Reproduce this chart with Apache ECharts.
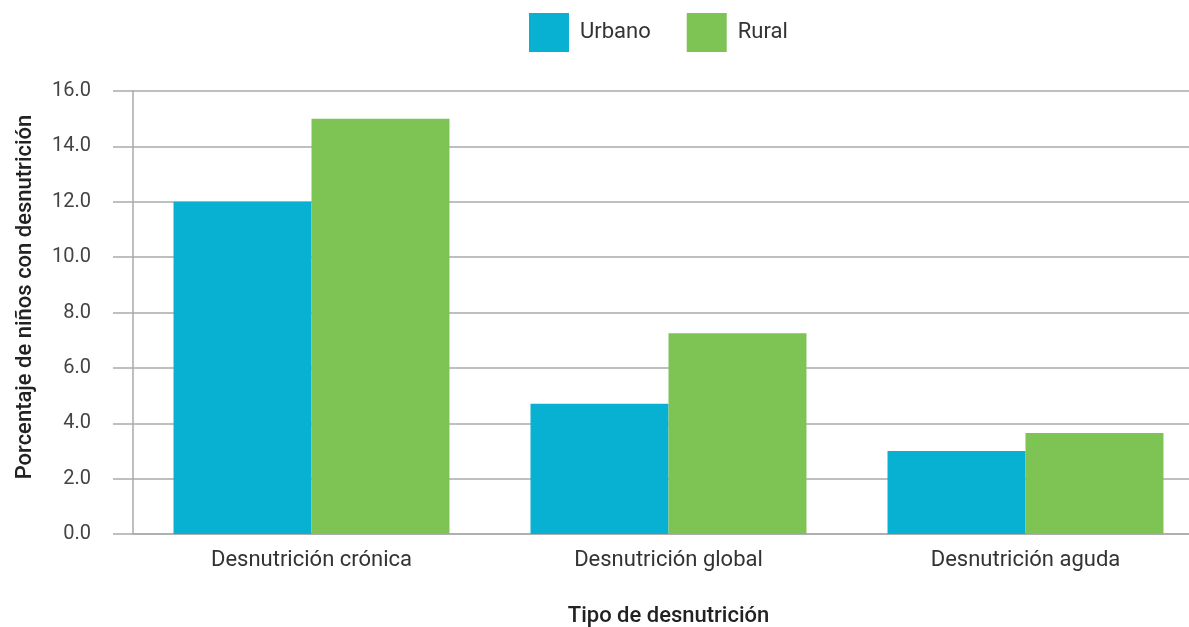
<!DOCTYPE html>
<html>
<head>
<meta charset="utf-8">
<script src="https://cdn.jsdelivr.net/npm/echarts@6/dist/echarts.min.js"></script>
<style>
  html, body { margin: 0; padding: 0; background: #fff; }
  #chart { width: 1189px; height: 627px; }
</style>
</head>
<body>
<div id="chart"></div>
<script>
// datos
const categories = ['Desnutrición crónica', 'Desnutrición global', 'Desnutrición aguda']
const urbano = [12.0, 4.7, 3.0]
const rural = [15.0, 7.25, 3.65]
const yTicks = { min: 0, max: 16, interval: 2 }

const FONT = 'Roboto'
const chart = echarts.init(document.getElementById('chart'))

chart.setOption({
  backgroundColor: '#fff',
  textStyle: { fontFamily: FONT },
  legend: {
    top: 13,
    left: 529,
    padding: 0,
    itemWidth: 40,
    itemHeight: 39,
    itemGap: 36,
    icon: 'rect',
    textStyle: { fontSize: 22, color: '#333', fontFamily: FONT, padding: [5, 0, 0, 6] },
    data: ['Urbano', 'Rural']
  },
  // la rejilla sigue más allá del borde derecho como en el original
  grid: { left: 133, width: 1071, top: 91, bottom: 93, outerBoundsMode: 'none', containLabel: false },
  xAxis: {
    type: 'category',
    data: categories,
    name: 'Tipo de desnutrición',
    nameLocation: 'middle',
    nameGap: 71,
    nameTextStyle: { fontSize: 22, fontWeight: 500, color: '#222', fontFamily: FONT },
    axisLine: { lineStyle: { color: '#aaa', width: 1.5 } },
    axisTick: { length: 14, lineStyle: { color: '#aaa', width: 1.5 } },
    axisLabel: { fontSize: 22, color: '#333', margin: 15, fontFamily: FONT }
  },
  yAxis: {
    type: 'value',
    min: yTicks.min,
    max: yTicks.max,
    interval: yTicks.interval,
    axisLine: { show: true, lineStyle: { color: '#aaa', width: 1.5 } },
    axisTick: { show: true, length: 20, lineStyle: { color: '#aaa', width: 1.5 } },
    axisLabel: {
      fontSize: 20, color: '#444', margin: 42, fontFamily: FONT,
      padding: [6, 0, 0, 0],
      formatter: v => v.toFixed(1)
    },
    splitLine: { lineStyle: { color: '#aaa', width: 1.5 } }
  },
  graphic: [{
    type: 'text',
    x: 25,
    y: 297,
    rotation: Math.PI / 2,
    style: {
      text: 'Porcentaje de niños con desnutrición',
      fontSize: 22,
      fontWeight: 500,
      fill: '#222',
      fontFamily: FONT,
      align: 'center',
      verticalAlign: 'middle'
    }
  }],
  series: [
    {
      name: 'Urbano',
      type: 'bar',
      data: urbano,
      barCategoryGap: '22.7%',
      barGap: '0%',
      itemStyle: { color: '#08b0d1' }
    },
    {
      name: 'Rural',
      type: 'bar',
      data: rural,
      barGap: '0%',
      itemStyle: { color: '#7dc455' }
    }
  ]
})
</script>
</body>
</html>
